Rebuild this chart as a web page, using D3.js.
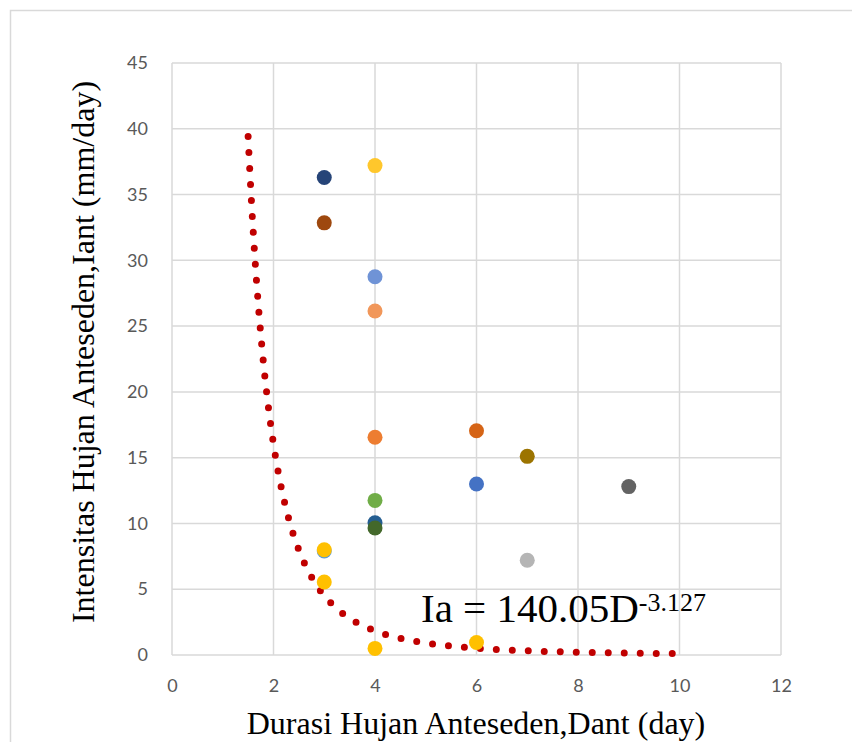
<!DOCTYPE html>
<html><head><meta charset="utf-8">
<script src="https://cdn.jsdelivr.net/npm/d3@7/dist/d3.min.js"></script>
<style>body{margin:0;background:#fff}svg{display:block}</style>
</head><body>
<svg id="chart" width="852" height="742"></svg>
<script>
// Data
const durations   = [3, 3, 4, 4, 4, 4, 6, 7, 6, 9, 4, 4, 4, 3, 3, 3, 7, 6, 4];
const intensities = [36.3, 32.85, 37.2, 28.75, 26.15, 16.55, 17.05, 15.1, 13.0, 12.8, 11.75, 10.05, 9.65, 7.9, 8.0, 5.55, 7.2, 0.95, 0.5];
const pointColors = ["#264478", "#9e480e", "#ffc72c", "#6f93d6", "#f1975a", "#ed7d31", "#d56416", "#9c7400", "#4472c4", "#636363", "#70ad47", "#255e91", "#43682b", "#5b9bd5", "#ffc000", "#ffc000", "#b5b5b5", "#ffc000", "#ffc000"];
const xTicks = [0, 2, 4, 6, 8, 10, 12];
const yTicks = [0, 5, 10, 15, 20, 25, 30, 35, 40, 45];
const trendCoef = 140.05, trendExp = -3.127;
const trendStart = 1.5, trendEnd = 9.9;
const xTitle = "Durasi Hujan Anteseden,Dant (day)";
const yTitle = "Intensitas Hujan Anteseden,Iant (mm/day)";

const svg = d3.select("#chart");
const L = 172, R = 781, T = 63, B = 655;
const x = d3.scaleLinear().domain([0, 12]).range([L, R]);
const y = d3.scaleLinear().domain([0, 45]).range([B, T]);

// outer chart border
svg.append("rect").attr("x", 10.5).attr("y", 10.5).attr("width", 900).attr("height", 900)
  .attr("fill", "none").attr("stroke", "#d9d9d9").attr("stroke-width", 1.5);

// grid
const g = svg.append("g");
g.selectAll(".hg").data(yTicks).join("line")
  .attr("x1", L).attr("x2", R).attr("y1", d => y(d)).attr("y2", d => y(d))
  .attr("stroke", "#d9d9d9").attr("stroke-width", 1.5);
g.selectAll(".vg").data(xTicks).join("line")
  .attr("y1", T).attr("y2", B).attr("x1", d => x(d)).attr("x2", d => x(d))
  .attr("stroke", "#d9d9d9").attr("stroke-width", 1.5);

// axes labels via d3 axes
const xAxis = svg.append("g").attr("transform", `translate(0,${B})`)
  .call(d3.axisBottom(x).tickValues(xTicks).tickSize(0).tickPadding(24));
const yAxis = svg.append("g").attr("transform", `translate(${L},0)`)
  .call(d3.axisLeft(y).tickValues(yTicks).tickSize(0).tickPadding(24));
[xAxis, yAxis].forEach(a => {
  a.select(".domain").remove();
  a.selectAll("text").attr("fill", "#595959").style("font-family", "Lato, 'Open Sans', sans-serif").style("font-size", "18px");
});

// trendline
const tPts = d3.range(trendStart, trendEnd + 0.001, 0.02).map(d => [d, trendCoef * Math.pow(d, trendExp)]);
svg.append("path").datum(tPts)
  .attr("d", d3.line().x(d => x(d[0])).y(d => y(d[1])))
  .attr("fill", "none").attr("stroke", "#c00000").attr("stroke-width", 7)
  .attr("stroke-linecap", "round").attr("stroke-dasharray", "0 16");

// points
svg.selectAll(".pt").data(durations.map((d, i) => ({ d, v: intensities[i], c: pointColors[i] })))
  .join("circle")
  .attr("cx", p => x(p.d)).attr("cy", p => y(p.v)).attr("r", 7.5).attr("fill", p => p.c);

// equation
const eq = svg.append("text").attr("x", 421).attr("y", 622)
  .style("font-family", "'Liberation Serif', 'Times New Roman', serif").style("font-size", "41px").attr("fill", "#000");
eq.append("tspan").text("Ia = 140.05D");
eq.append("tspan").attr("dy", -11).style("font-size", "26px").text("-3.127");

// axis titles
svg.append("text").attr("x", 476).attr("y", 734).attr("text-anchor", "middle")
  .style("font-family", "'Liberation Serif', 'Times New Roman', serif").style("font-size", "32px").text(xTitle);
svg.append("text").attr("transform", "translate(94,352) rotate(-90)").attr("text-anchor", "middle")
  .style("font-family", "'Liberation Serif', 'Times New Roman', serif").style("font-size", "32px").text(yTitle);
</script>
</body></html>
